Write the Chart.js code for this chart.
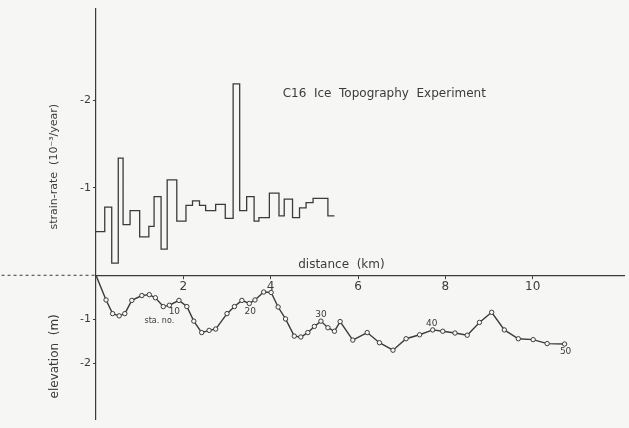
<!DOCTYPE html>
<html>
<head>
<meta charset="utf-8">
<script src="https://cdn.jsdelivr.net/npm/chart.js@4/dist/chart.umd.min.js"></script>
<style>
  html, body { margin: 0; padding: 0; background: #f6f7f4; }
  #wrap { width: 629px; height: 428px; }
</style>
</head>
<body>
<div id="wrap"><canvas id="iceChart"></canvas></div>
<script>
// strain-rate strips: strip edges along the line (km) and rate in each strip (10^-3 / year)
const stripEdges = [0, 0.20, 0.36, 0.51, 0.62, 0.78, 1.00, 1.21, 1.33, 1.49, 1.63, 1.85, 2.06, 2.21, 2.37, 2.51,
  2.74, 2.96, 3.14, 3.29, 3.45, 3.62, 3.73, 3.97, 4.19, 4.31, 4.50, 4.66, 4.81, 4.97, 5.31, 5.46];
const strainRate = [-0.50, -0.78, -0.14, -1.34, -0.58, -0.74, -0.44, -0.56, -0.90, -0.30, -1.09, -0.62, -0.80,
  -0.85, -0.80, -0.74, -0.81, -0.65, -2.19, -0.74, -0.90, -0.62, -0.66, -0.94, -0.68, -0.87, -0.66, -0.77,
  -0.83, -0.88, -0.68];

// survey stations 0..50: distance (km) and surface elevation (m)
const stationDistance = [0, 0.23, 0.38, 0.53, 0.66, 0.82, 1.05, 1.22, 1.36, 1.54, 1.68, 1.90, 2.08, 2.24, 2.42,
  2.59, 2.74, 3.00, 3.17, 3.34, 3.51, 3.64, 3.84, 4.01, 4.17, 4.34, 4.54, 4.69, 4.85, 5.00, 5.15, 5.31, 5.46,
  5.59, 5.88, 6.21, 6.49, 6.80, 7.10, 7.41, 7.71, 7.94, 8.22, 8.50, 8.78, 9.06, 9.35, 9.67, 10.01, 10.33, 10.73];
const stationElevation = [0, -0.56, -0.87, -0.92, -0.87, -0.57, -0.46, -0.44, -0.51, -0.71, -0.68, -0.57, -0.71,
  -1.04, -1.30, -1.25, -1.22, -0.87, -0.71, -0.57, -0.64, -0.56, -0.38, -0.39, -0.72, -0.99, -1.38, -1.40, -1.30,
  -1.16, -1.04, -1.19, -1.27, -1.05, -1.47, -1.30, -1.53, -1.70, -1.44, -1.35, -1.24, -1.27, -1.31, -1.36, -1.07,
  -0.84, -1.24, -1.44, -1.46, -1.55, -1.56];
const stationTags = [10, 20, 30, 40, 50];

const distanceTicks = [2, 4, 6, 8, 10];
const strainTicks = [-1, -2];
const elevationTicks = [-1, -2];

const ink = "#3b3b3b";
const paper = "#f6f7f4";
Chart.defaults.font.family = "'DejaVu Sans', sans-serif";
Chart.defaults.color = ink;

// step line: each rate holds from its edge to the next one
const strainPoints = strainRate.map((v, i) => ({ x: stripEdges[i], y: v }));
strainPoints.push({ x: stripEdges[stripEdges.length - 1], y: strainRate[strainRate.length - 1] });

const stationPoints = stationDistance.map((d, i) => ({ x: d, y: stationElevation[i] }));

// where the little station numbers sit relative to their circle (px)
const tagOffsets = { 10: [5, 6], 20: [1, 8], 30: [0, -6], 40: [-1, -6], 50: [1, 8] };

const figureText = {
  id: "figureText",
  afterDatasetsDraw(chart) {
    const { ctx, scales } = chart;
    const put = (text, px, py, size) => {
      ctx.save();
      ctx.font = size + "px 'DejaVu Sans', sans-serif";
      ctx.fillStyle = ink;
      ctx.textAlign = "center";
      ctx.textBaseline = "middle";
      ctx.fillText(text, px, py);
      ctx.restore();
    };
    const x = scales.x, ys = scales.yStrain, ye = scales.yElev;
    put("C16  Ice  Topography  Experiment", x.getPixelForValue(6.6), ys.getPixelForValue(-2.07), 12);
    put("distance  (km)", x.getPixelForValue(5.62), ys.getPixelForValue(-0.12), 12);

    stationTags.forEach((n) => {
      const px = x.getPixelForValue(stationDistance[n]);
      const py = ye.getPixelForValue(stationElevation[n]);
      const [dx, dy] = tagOffsets[n];
      put(String(n), px + dx, py + dy, 9);
    });
    const p10x = x.getPixelForValue(stationDistance[10]);
    const p10y = ye.getPixelForValue(stationElevation[10]);
    put("sta. no.", p10x - 10, p10y + 16, 8);
  },
};

const axisGrid = { drawOnChartArea: false, drawTicks: true, tickLength: 3, color: ink, lineWidth: 1 };

new Chart(document.getElementById("iceChart"), {
  type: "line",
  data: {
    datasets: [
      {
        label: "strain-rate",
        yAxisID: "yStrain",
        data: strainPoints,
        stepped: "before",
        borderColor: ink,
        borderWidth: 1.3,
        pointRadius: 0,
        fill: false,
      },
      {
        label: "elevation",
        yAxisID: "yElev",
        data: stationPoints,
        borderColor: ink,
        borderWidth: 1.4,
        pointRadius: (c) => (c.dataIndex === 0 ? 0 : 2.2),
        pointBackgroundColor: paper,
        pointBorderColor: ink,
        pointBorderWidth: 1,
        fill: false,
      },
      {
        label: "datum",
        yAxisID: "yElev",
        data: [{ x: -2.3, y: 0 }, { x: 0, y: 0 }],
        borderColor: ink,
        borderWidth: 1,
        borderDash: [3, 3],
        pointRadius: 0,
        clip: false,
      },
    ],
  },
  options: {
    responsive: true,
    maintainAspectRatio: false,
    animation: false,
    layout: { padding: { top: 5, bottom: 4, left: 0, right: 0 } },
    plugins: { legend: { display: false }, tooltip: { enabled: false } },
    scales: {
      x: {
        type: "linear",
        min: 0,
        max: 12.09,
        position: { yElev: 0 },
        afterBuildTicks: (s) => { s.ticks = distanceTicks.map((v) => ({ value: v })); },
        grid: axisGrid,
        border: { color: ink, width: 1.2 },
        ticks: { font: { size: 12 }, padding: 1, maxRotation: 0 },
      },
      yElev: {
        type: "linear",
        position: "left",
        stack: "profile",
        stackWeight: 147,
        min: -3.27,
        max: 0,
        afterBuildTicks: (s) => { s.ticks = elevationTicks.map((v) => ({ value: v })); },
        afterFit: (s) => { s.width = 96; },
        grid: axisGrid,
        border: { color: ink, width: 1.2 },
        ticks: { font: { size: 11 }, padding: 2 },
        title: { display: true, text: "elevation  (m)\u2003\u2002", font: { size: 12 }, padding: { top: 48, bottom: 0 } },
      },
      yStrain: {
        type: "linear",
        position: "left",
        stack: "profile",
        stackWeight: 272,
        reverse: true,
        min: -3.05,
        max: 0,
        afterBuildTicks: (s) => { s.ticks = strainTicks.map((v) => ({ value: v })); },
        afterFit: (s) => { s.width = 96; },
        grid: axisGrid,
        border: { color: ink, width: 1.2 },
        ticks: { font: { size: 11 }, padding: 2 },
        title: {
          display: true,
          text: "strain-rate  (10\u207B\u00B3/year)\u2003\u2003\u2003\u2003\u2002",
          font: { size: 11 },
          padding: { top: 48, bottom: 0 },
        },
      },
    },
  },
  plugins: [figureText],
});
</script>
</body>
</html>
